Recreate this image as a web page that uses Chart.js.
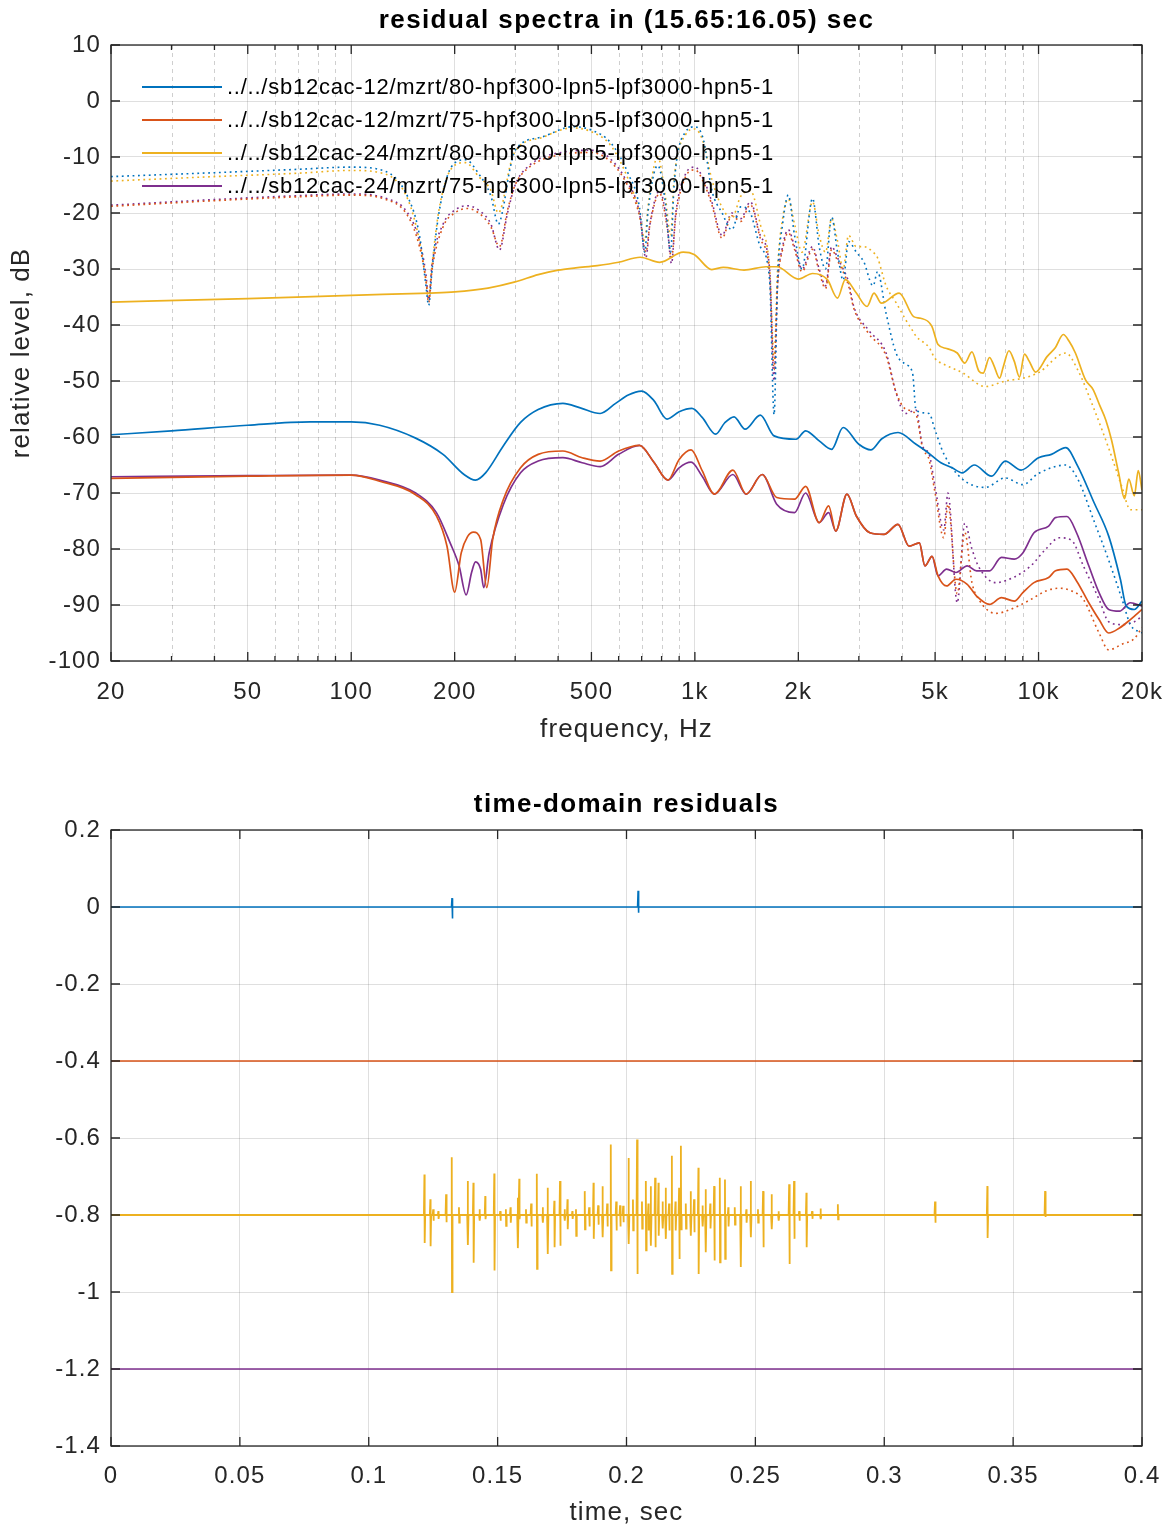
<!DOCTYPE html>
<html><head><meta charset="utf-8">
<script src="https://cdn.jsdelivr.net/npm/chart.js@4.4.1/dist/chart.umd.min.js"></script>
<style>
html,body{margin:0;padding:0;background:#fff;}
#top{position:absolute;left:0;top:0;width:1170px;height:770px;}
#bot{position:absolute;left:0;top:770px;width:1170px;height:760px;}
</style></head><body>
<div id="top"><canvas id="c1"></canvas></div>
<div id="bot"><canvas id="c2"></canvas></div>
<script>
// ---------------- data: spectra ----------------
const legendLabels = [
  '../../sb12cac-12/mzrt/80-hpf300-lpn5-lpf3000-hpn5-1',
  '../../sb12cac-12/mzrt/75-hpf300-lpn5-lpf3000-hpn5-1',
  '../../sb12cac-24/mzrt/80-hpf300-lpn5-lpf3000-hpn5-1',
  '../../sb12cac-24/mzrt/75-hpf300-lpn5-lpf3000-hpn5-1'
];
const seriesColors = ['#0072BD', '#D95319', '#EDB120', '#7E2F8E'];

const freqMajorHz = [20,50,100,200,500,1000,2000,5000,10000,20000];
const freqMajorLabels = ['20','50','100','200','500','1k','2k','5k','10k','20k'];
const freqMinorHz = [30,40,60,70,80,90,300,400,600,700,800,900,3000,4000,6000,7000,8000,9000];
const levelTicks = [-100,-90,-80,-70,-60,-50,-40,-30,-20,-10,0,10];

const blueSolidHz = [20,30,50,76,100,121,154,185,213,230,246,277,311,350,413,464,530,588,640,700,760,830,900,980,1050,1150,1220,1300,1400,1550,1700,1970,2100,2300,2500,2700,3000,3250,3500,3900,4400,4700,5200,5600,6000,6500,7300,8000,8900,10000,10900,12000,13000,14500,16000,17300,18000,19000,20000];
const blueSolidDb = [-59.6,-58.9,-57.9,-57.3,-57.3,-57.9,-60.2,-63.1,-66.7,-67.7,-66.4,-61.6,-57.4,-55.1,-54.0,-54.8,-55.8,-54.0,-52.5,-51.8,-53.5,-56.8,-55.5,-54.9,-56.5,-59.5,-57.5,-56.4,-58.6,-56.1,-59.8,-60.4,-58.9,-60.7,-62.2,-58.3,-61.3,-62.3,-60.3,-59.2,-61.3,-62.5,-64.6,-65.5,-66.4,-65.0,-67.0,-64.3,-65.9,-63.7,-63.1,-61.9,-65.2,-71.7,-77.7,-85.4,-90.2,-90.8,-89.3];

const orangeSolidHz = [20,50,100,121,154,177,190,200,209,218,227,238,248,258,277,311,350,413,470,530,600,690,760,835,900,975,1050,1140,1290,1410,1570,1730,1950,2100,2300,2450,2570,2770,2950,3230,3550,3900,4200,4500,4670,4900,5100,5400,5750,6200,6600,7200,7800,8500,9000,9700,10700,11200,12100,12900,14000,15000,16000,17200,18500,20000];
const orangeSolidDb = [-67.4,-67.0,-66.8,-67.9,-70.3,-74.1,-79.5,-87.7,-80.7,-77.8,-77.0,-78.3,-86.9,-78.3,-71.2,-65.5,-63.1,-62.5,-63.7,-64.3,-62.5,-61.5,-64.5,-67.7,-64.0,-62.3,-66.0,-70.2,-65.9,-70.2,-66.7,-70.8,-71.1,-68.8,-75.3,-72.3,-76.8,-70.2,-74.1,-77.1,-77.4,-75.6,-79.5,-78.9,-83.0,-81.3,-84.8,-86.6,-85.4,-86.3,-88.4,-89.9,-88.7,-89.3,-87.8,-86.0,-85.1,-83.9,-83.6,-85.7,-89.6,-92.6,-95.0,-94.1,-92.6,-90.8];

const yellowSolidHz = [20,50,100,170,200,250,300,350,400,450,520,600,693,790,925,995,1120,1210,1390,1610,1730,2000,2200,2430,2600,2740,2950,3170,3320,3490,3930,4330,4540,4890,5100,5400,5800,6100,6400,6700,6900,7200,7400,7700,7900,8200,8500,8800,9100,9400,9800,10600,11200,11800,12300,12800,13700,14400,15100,15700,16300,17100,17800,18300,19000,19500,20000];
const yellowSolidDb = [-35.9,-35.3,-34.7,-34.3,-34.1,-33.4,-32.3,-31.0,-30.2,-29.8,-29.4,-28.8,-27.9,-28.8,-27.0,-27.4,-30.1,-29.7,-30.2,-29.6,-29.6,-31.8,-30.8,-31.9,-35.2,-31.9,-34.3,-36.7,-34.3,-36.1,-34.3,-38.5,-38.8,-40.2,-43.5,-44.2,-45.0,-46.8,-44.8,-48.2,-48.6,-45.8,-47.1,-49.5,-47.4,-44.6,-46.5,-49.3,-45.2,-46.5,-48.4,-45.6,-44.0,-41.7,-43.0,-45.0,-49.8,-51.5,-54.5,-57.0,-60.5,-66.4,-71.0,-67.5,-70.5,-66.0,-69.5];

const purpleSolidHz = [20,50,100,121,154,177,194,206,216,224,230,238,243,252,277,311,350,413,470,530,600,690,760,835,900,975,1050,1140,1290,1410,1570,1730,1950,2100,2300,2450,2570,2770,2950,3230,3550,3900,4200,4500,4670,4900,5100,5400,5750,6200,6600,7200,7800,8500,9000,9700,10700,11200,12100,12900,14000,15000,16000,17200,18500,20000];
const purpleSolidDb = [-67.1,-66.9,-66.8,-67.7,-70.0,-73.5,-78.9,-83.0,-88.2,-84.2,-82.3,-83.6,-86.9,-80.7,-72.1,-66.4,-64.3,-63.7,-64.6,-65.3,-63.1,-61.5,-64.5,-67.7,-65.5,-64.5,-67.0,-70.2,-66.7,-70.2,-66.7,-72.0,-73.5,-70.0,-75.3,-73.5,-76.8,-70.2,-74.1,-77.1,-77.4,-75.6,-79.5,-78.9,-83.0,-81.3,-84.8,-83.6,-84.2,-83.0,-83.9,-83.9,-81.5,-81.8,-80.7,-77.1,-75.9,-74.4,-74.2,-77.1,-83.0,-87.8,-90.8,-91.1,-89.6,-90.2];

// dotted spectra ("80" pair on grid A, "75" pair on grid B)
const dotHzA = [20,40,70,100,125,146,158,165,168,172,180,196,215,235,255,268,275,290,300,360,440,500,570,640,690,715,730,780,820,850,870,940,1000,1060,1120,1200,1280,1360,1450,1550,1650,1700,1740,1800,1870,1950,2050,2200,2300,2400,2500,2600,2700,2800,2950,3100,3300,3400,3600,3850,4100,4300,4400,4800,5000,5300,6000,7000,8000,9000,10000,12000,13000,14500,16000,17500,18500,20000];
const blueDotDb = [-13.5,-12.8,-12.2,-11.8,-12.5,-17.1,-24,-33,-36.5,-30,-20,-11.7,-10.5,-13,-17,-22,-20,-12,-8.8,-6.4,-4.6,-5.2,-7.5,-13,-19,-27,-20,-11.5,-18,-27,-15,-5.5,-4.6,-7,-15.9,-20,-23,-18.9,-20,-26,-32,-56,-32,-22,-16.8,-24,-30,-17.4,-26,-30,-20.7,-27,-32,-25.1,-27,-28.7,-33,-30.5,-37.9,-45,-47,-48.6,-55.2,-55.8,-58.8,-63,-67.5,-69,-67.3,-68.5,-66.5,-65,-67.5,-75,-82,-89,-93.5,-95];
const yellowDotDb = [-14.3,-13.5,-12.9,-12.4,-13,-17.5,-25,-32,-35,-29,-19.5,-12,-11,-13.5,-16,-20,-18.5,-11.5,-9,-6.5,-4.8,-5.5,-8,-14,-20,-25,-19,-10,-17,-24,-14,-6,-5,-7.5,-14,-19,-21,-17,-16,-22,-30,-46,-30,-21,-17.5,-22,-27,-18,-24,-27,-21,-25,-30,-24,-26,-26,-27,-28,-33,-36,-39,-41,-42,-44,-46,-47,-48.5,-51,-50,-49.5,-48.5,-45,-48,-55,-62,-69,-73,-73];

const dotHzB = [20,40,70,100,125,146,158,165,168,172,185,200,217,235,255,270,285,300,327,416,500,560,630,690,720,740,790,830,855,880,940,1000,1060,1120,1200,1280,1360,1450,1550,1650,1700,1740,1800,1870,1950,2050,2200,2300,2400,2500,2600,2700,2800,2900,3200,3600,3850,4100,4400,4600,4800,5000,5300,5450,5800,6100,6400,6700,7500,8500,9500,10500,11500,12500,13500,15000,16000,17500,19000,20000];
const orangeDotDb = [-18.8,-17.8,-17.1,-16.8,-17.5,-20.5,-26,-32,-36,-30,-22.5,-20,-19.2,-20,-22.5,-26,-19.5,-15,-12,-9.5,-9.2,-10.5,-14.5,-20.5,-27,-22,-16.5,-22.5,-28,-20.5,-13.5,-12.3,-14.5,-18.5,-24.5,-20.5,-21.5,-18.5,-24.5,-31,-48,-33,-26.5,-23.5,-26.5,-30.5,-26.5,-30.5,-33.5,-26.5,-28.5,-30.5,-33,-37,-41.5,-45.5,-52,-55,-56,-62,-64,-70,-78,-72,-88,-77,-86,-89,-91.5,-90.5,-89,-87.5,-87,-87.5,-89,-95,-98,-97,-96,-94];
const purpleDotDb = [-18.6,-17.6,-16.9,-16.6,-17.3,-20,-25,-31,-35.5,-29,-22,-19.5,-18.7,-19.5,-22,-26.6,-20,-15,-11.7,-9.1,-8.8,-10,-14.1,-20,-28,-22,-16,-22,-29,-20,-13,-11.8,-14,-18,-24,-20,-21,-18,-24,-30,-50,-33,-26,-23,-26,-30,-26,-30,-33,-26,-28,-30,-32.3,-36.7,-40.9,-45,-52.1,-55.8,-55.2,-61.7,-63,-68.9,-76.6,-70,-89.6,-75.4,-80,-83.2,-86,-85,-83,-80,-78,-78.5,-83,-89,-93,-93.5,-93,-92];

// ---------------- data: time domain ----------------
const timeTicks = [0,0.05,0.1,0.15,0.2,0.25,0.3,0.35,0.4];
const timeTickLabels = ['0','0.05','0.1','0.15','0.2','0.25','0.3','0.35','0.4'];
const residTicks = [-1.4,-1.2,-1,-0.8,-0.6,-0.4,-0.2,0,0.2];
const residTickLabels = ['-1.4','-1.2','-1','-0.8','-0.6','-0.4','-0.2','0','0.2'];
const traceLevels = [0, -0.4, -0.8, -1.2];

const blueSpikeT = [0.1323, 0.2045];
const blueSpikeHi = [0.023, 0.042];
const blueSpikeLo = [-0.030, -0.015];

const yellowSpikeT = [0.1216,0.1239,0.1300,0.1322,0.1384,0.1406,0.1452,0.1487,0.1532,0.1578,0.1584,0.1652,0.1694,0.1720,0.1742,0.1771,0.1804,0.1838,0.1872,0.1907,0.1939,0.1987,0.2008,0.2041,0.2075,0.2094,0.2111,0.2124,0.2152,0.2176,0.2204,0.2211,0.2249,0.2262,0.2279,0.2307,0.2340,0.2362,0.2382,0.2443,0.2482,0.2530,0.2563,0.2631,0.2650,0.2698,0.2753,0.2820,0.3197,0.3400,0.3624];
const yellowSpikeHi = [-0.695,-0.759,-0.746,-0.650,-0.712,-0.716,-0.751,-0.692,-0.785,-0.755,-0.706,-0.693,-0.729,-0.763,-0.712,-0.759,-0.785,-0.738,-0.716,-0.725,-0.617,-0.776,-0.652,-0.604,-0.712,-0.725,-0.703,-0.716,-0.729,-0.646,-0.729,-0.620,-0.738,-0.759,-0.677,-0.733,-0.725,-0.703,-0.708,-0.725,-0.712,-0.738,-0.746,-0.720,-0.712,-0.742,-0.783,-0.772,-0.765,-0.725,-0.738];
const yellowSpikeLo = [-0.873,-0.881,-0.819,-1.000,-0.878,-0.924,-0.811,-0.944,-0.828,-0.886,-0.811,-0.940,-0.901,-0.884,-0.880,-0.837,-0.854,-0.837,-0.862,-0.858,-0.944,-0.819,-0.875,-0.953,-0.892,-0.880,-0.884,-0.854,-0.862,-0.953,-0.914,-0.837,-0.854,-0.845,-0.953,-0.897,-0.918,-0.923,-0.914,-0.935,-0.858,-0.884,-0.837,-0.927,-0.862,-0.884,-0.811,-0.811,-0.820,-0.860,-0.805];
// smaller excursions forming the noisy band around -0.8
const yellowNoiseT = [0.1250,0.1270,0.1350,0.1430,0.1510,0.1550,0.1610,0.1630,0.1675,0.1760,0.1790,0.1855,0.1890,0.1925,0.1960,0.1975,0.2025,0.2060,0.2085,0.2140,0.2165,0.2190,0.2230,0.2295,0.2325,0.2395,0.2420,0.2465,0.2510,0.2590,0.2670,0.2720];
const yellowNoiseHi = [-0.785,-0.790,-0.780,-0.785,-0.790,-0.780,-0.785,-0.770,-0.780,-0.785,-0.790,-0.780,-0.775,-0.770,-0.765,-0.775,-0.760,-0.765,-0.770,-0.765,-0.770,-0.765,-0.770,-0.775,-0.770,-0.780,-0.780,-0.785,-0.785,-0.790,-0.790,-0.790];
const yellowNoiseLo = [-0.815,-0.810,-0.820,-0.815,-0.815,-0.820,-0.820,-0.830,-0.820,-0.815,-0.810,-0.830,-0.825,-0.830,-0.840,-0.830,-0.840,-0.835,-0.840,-0.835,-0.840,-0.840,-0.835,-0.830,-0.835,-0.830,-0.825,-0.820,-0.820,-0.815,-0.815,-0.810];

// ---------------- helpers ----------------
const FONT = "'Liberation Sans', Arial, Helvetica, sans-serif";
const AXC = '#262626';
function zip(xs, ys) { return xs.map((x, i) => ({ x: x, y: ys[i] })); }
function spikeTrace(level, ts, his, los) {
  const ev = ts.map((t, i) => [t, his[i], los[i]]).sort((p, q) => p[0] - q[0]);
  const pts = [{ x: timeTicks[0], y: level }];
  ev.forEach(e => {
    pts.push({ x: e[0] - 0.0002, y: level }, { x: e[0], y: e[1] }, { x: e[0] + 0.0001, y: e[2] }, { x: e[0] + 0.0003, y: level });
  });
  pts.push({ x: timeTicks[timeTicks.length - 1], y: level });
  return pts;
}
function noPadX(s, h) { s.height = h; s.paddingLeft = 0; s.paddingRight = 0; }
function noPadY(s, w) { s.width = w; s.paddingTop = 0; s.paddingBottom = 0; }

const matlabBox = {
  id: 'matlabBox',
  beforeDraw(chart) { chart.ctx.letterSpacing = '1.1px'; },
  beforeDatasetsDraw(chart, args, o) {
    if (!o.minorX) return;
    const a = chart.chartArea, ctx = chart.ctx, xs = chart.scales.x;
    ctx.save();
    ctx.strokeStyle = 'rgba(38,38,38,0.22)';
    ctx.lineWidth = 1;
    ctx.setLineDash([4, 4]);
    ctx.beginPath();
    o.minorX.forEach(v => { const p = Math.round(xs.getPixelForValue(v)) + 0.5; ctx.moveTo(p, a.top); ctx.lineTo(p, a.bottom); });
    ctx.stroke();
    ctx.restore();
  },
  afterDatasetsDraw(chart, args, o) {
    const a = chart.chartArea, ctx = chart.ctx, xs = chart.scales.x, ys = chart.scales.y;
    const L = o.tickLen, l = o.minorLen;
    ctx.save();
    ctx.strokeStyle = AXC;
    ctx.lineWidth = 1.3;
    ctx.beginPath();
    xs.ticks.forEach(t => { const p = xs.getPixelForValue(t.value); ctx.moveTo(p, a.bottom); ctx.lineTo(p, a.bottom - L); ctx.moveTo(p, a.top); ctx.lineTo(p, a.top + L); });
    (o.minorX || []).forEach(v => { const p = xs.getPixelForValue(v); ctx.moveTo(p, a.bottom); ctx.lineTo(p, a.bottom - l); ctx.moveTo(p, a.top); ctx.lineTo(p, a.top + l); });
    ys.ticks.forEach(t => { const p = ys.getPixelForValue(t.value); ctx.moveTo(a.left, p); ctx.lineTo(a.left + L, p); ctx.moveTo(a.right, p); ctx.lineTo(a.right - L, p); });
    ctx.stroke();
    ctx.strokeRect(a.left, a.top, a.right - a.left, a.bottom - a.top);
    ctx.restore();
  },
  afterDraw(chart, args, o) {
    const a = chart.chartArea, ctx = chart.ctx;
    ctx.save();
    ctx.fillStyle = '#000';
    ctx.letterSpacing = '1.4px';
    ctx.font = 'bold ' + o.titleSize + 'px ' + FONT;
    ctx.textAlign = 'center';
    ctx.textBaseline = 'middle';
    ctx.fillText(o.title, (a.left + a.right) / 2, o.titleY);
    if (o.legend) {
      ctx.letterSpacing = '0.75px';
      ctx.font = o.legendSize + 'px ' + FONT;
      ctx.textAlign = 'left';
      for (let i = 0; i < o.legend; i++) {
        const ds = chart.data.datasets[i];
        const y = a.top + 42 + 33 * i;
        ctx.strokeStyle = ds.borderColor;
        ctx.lineWidth = 2;
        ctx.beginPath(); ctx.moveTo(a.left + 31, y); ctx.lineTo(a.left + 111, y); ctx.stroke();
        ctx.fillStyle = '#000';
        ctx.fillText(ds.label, a.left + 116, y + 1);
      }
    }
    ctx.restore();
  }
};

Chart.defaults.font.family = FONT;
Chart.defaults.color = AXC;

// ---------------- spectra chart ----------------
const solidSets = [
  [blueSolidHz, blueSolidDb], [orangeSolidHz, orangeSolidDb], [yellowSolidHz, yellowSolidDb], [purpleSolidHz, purpleSolidDb]
];
const dotSets = [
  [dotHzA, blueDotDb], [dotHzB, orangeDotDb], [dotHzA, yellowDotDb], [dotHzB, purpleDotDb]
];
const specDatasets = [];
solidSets.forEach((s, i) => specDatasets.push({
  label: legendLabels[i], data: zip(s[0], s[1]), borderColor: seriesColors[i], backgroundColor: seriesColors[i],
  borderWidth: 1.7, pointRadius: 0, cubicInterpolationMode: 'monotone', fill: false
}));
dotSets.forEach((s, i) => specDatasets.push({
  label: legendLabels[i] + ' (dotted)', data: zip(s[0], s[1]), borderColor: seriesColors[i], backgroundColor: seriesColors[i],
  borderWidth: 1.6, borderDash: [1.8, 3.6], pointRadius: 0, cubicInterpolationMode: 'monotone', fill: false
}));

new Chart(document.getElementById('c1'), {
  type: 'line',
  data: { datasets: specDatasets },
  plugins: [matlabBox],
  options: {
    responsive: true, maintainAspectRatio: false, animation: false, devicePixelRatio: 1,
    layout: { padding: { top: 45, right: 28, left: 0, bottom: 0 } },
    plugins: {
      legend: { display: false }, tooltip: { enabled: false },
      matlabBox: { minorX: freqMinorHz, tickLen: 9, minorLen: 5, title: 'residual spectra in (15.65:16.05) sec', titleY: 21, titleSize: 26, legend: 4, legendSize: 22 }
    },
    scales: {
      x: {
        type: 'logarithmic', min: 20, max: 20000,
        afterBuildTicks: s => { s.ticks = freqMajorHz.map(v => ({ value: v })); },
        afterFit: s => noPadX(s, 109),
        ticks: { autoSkip: false, maxRotation: 0, padding: 16.5, font: { size: 24 }, color: AXC, callback: (v, i) => freqMajorLabels[i] },
        grid: { color: 'rgba(38,38,38,0.15)', drawTicks: false }, border: { display: false },
        title: { display: true, text: 'frequency, Hz', font: { size: 26 }, color: AXC, padding: { top: 0, bottom: 24.4 } }
      },
      y: {
        type: 'linear', min: -100, max: 10,
        afterBuildTicks: s => { s.ticks = levelTicks.map(v => ({ value: v })); },
        afterFit: s => noPadY(s, 111),
        ticks: { padding: 10, font: { size: 24 }, color: AXC },
        grid: { color: 'rgba(38,38,38,0.15)', drawTicks: false }, border: { display: false },
        title: { display: true, text: 'relative level, dB', font: { size: 26 }, color: AXC, padding: { top: 6.4, bottom: 0 } }
      }
    }
  }
});

// ---------------- time domain chart ----------------
const timeDatasets = [
  { label: legendLabels[0], data: spikeTrace(traceLevels[0], blueSpikeT, blueSpikeHi, blueSpikeLo), borderColor: seriesColors[0], borderWidth: 1.6 },
  { label: legendLabels[1], data: spikeTrace(traceLevels[1], [], [], []), borderColor: seriesColors[1], borderWidth: 1.6 },
  { label: legendLabels[2], data: spikeTrace(traceLevels[2], yellowSpikeT.concat(yellowNoiseT), yellowSpikeHi.concat(yellowNoiseHi), yellowSpikeLo.concat(yellowNoiseLo)), borderColor: seriesColors[2], borderWidth: 1.8 },
  { label: legendLabels[3], data: spikeTrace(traceLevels[3], [], [], []), borderColor: seriesColors[3], borderWidth: 1.4 }
].map(d => Object.assign(d, { pointRadius: 0, tension: 0, fill: false, backgroundColor: d.borderColor }));

new Chart(document.getElementById('c2'), {
  type: 'line',
  data: { datasets: timeDatasets },
  plugins: [matlabBox],
  options: {
    responsive: true, maintainAspectRatio: false, animation: false, devicePixelRatio: 1,
    layout: { padding: { top: 60, right: 28, left: 0, bottom: 0 } },
    plugins: {
      legend: { display: false }, tooltip: { enabled: false },
      matlabBox: { tickLen: 9, minorLen: 5, title: 'time-domain residuals', titleY: 35, titleSize: 26, legend: 0 }
    },
    scales: {
      x: {
        type: 'linear', min: 0, max: 0.4,
        afterBuildTicks: s => { s.ticks = timeTicks.map(v => ({ value: v })); },
        afterFit: s => noPadX(s, 84),
        ticks: { autoSkip: false, maxRotation: 0, padding: 15.6, font: { size: 24 }, color: AXC, callback: (v, i) => timeTickLabels[i] },
        grid: { color: 'rgba(38,38,38,0.15)', drawTicks: false }, border: { display: false },
        title: { display: true, text: 'time, sec', font: { size: 26 }, color: AXC, padding: { top: 0, bottom: 1.4 } }
      },
      y: {
        type: 'linear', min: -1.4, max: 0.2,
        afterBuildTicks: s => { s.ticks = residTicks.map(v => ({ value: v })); },
        afterFit: s => noPadY(s, 111),
        ticks: { padding: 10, font: { size: 24 }, color: AXC, callback: (v, i) => residTickLabels[i] },
        grid: { color: 'rgba(38,38,38,0.15)', drawTicks: false }, border: { display: false }
      }
    }
  }
});
</script>
</body></html>
